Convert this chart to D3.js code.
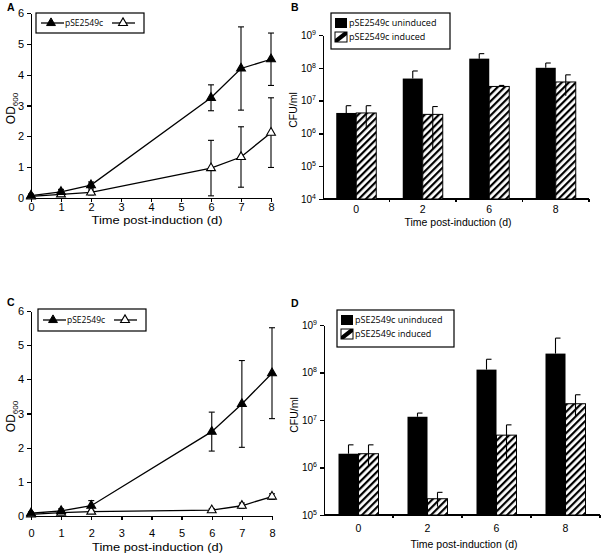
<!DOCTYPE html>
<html>
<head>
<meta charset="utf-8">
<script src="https://cdn.jsdelivr.net/npm/d3@7"></script>
<style>
  body { margin: 0; background: #fff; }
  svg { display: block; }
  .axis path, .axis line { stroke: #000; stroke-width: 1.3; shape-rendering: crispEdges; }
  .axis text { font-family: "Liberation Sans", Arial, sans-serif; fill: #000; }
  .title { font-family: "Liberation Sans", Arial, sans-serif; fill: #000; }
  .panel { font-family: "Liberation Sans", Arial, sans-serif; font-weight: bold; font-size: 10.5px; }
  .legend text { font-family: "Open Sans", sans-serif; font-size: 8.5px; fill: #000; }
  .legend.bars text { font-size: 9px; }
</style>
</head>
<body>
<div id="chart"></div>
<script>
// line charts (A, C): OD600 over days
let lineDays = [0, 1, 2, 6, 7, 8];
let aFilled = [0.08, 0.2, 0.42, 3.25, 4.2, 4.5];
let aFilledErr = [0.05, 0.08, 0.1, 0.42, 1.35, 0.85];
let aOpen = [0.05, 0.12, 0.18, 0.97, 1.33, 2.12];
let aOpenErr = [0.03, 0.05, 0.08, 0.9, 0.98, 1.13];
let cFilled = [0.08, 0.15, 0.3, 2.47, 3.28, 4.18];
let cFilledErr = [0.04, 0.06, 0.15, 0.57, 1.27, 1.33];
let cOpen = [0.05, 0.1, 0.13, 0.17, 0.3, 0.57];
let cOpenErr = [0.02, 0.03, 0.04, 0.05, 0.08, 0.08];
let odTicks = [0, 1, 2, 3, 4, 5, 6];
let dayTicks = [0, 1, 2, 3, 4, 5, 6, 7, 8];

// bar charts (B, D): CFU/ml
let barDays = ['0', '2', '6', '8'];
let bUninduced = [4.2e6, 4.7e7, 1.9e8, 1.0e8];
let bUninducedHi = [7e6, 8e7, 2.7e8, 1.4e8];
let bInduced = [4.2e6, 3.8e6, 2.7e7, 3.7e7];
let bInducedHi = [7e6, 6.6e6, 2.9e7, 6.1e7];
let bInducedLo = [1.4e6, 3.3e5, 2.6e7, 1.4e7];
let dUninduced = [1.95e6, 1.17e7, 1.15e8, 2.5e8];
let dUninducedHi = [3e6, 1.4e7, 1.9e8, 5.3e8];
let dInduced = [1.95e6, 2.2e5, 4.8e6, 2.2e7];
let dInducedHi = [3e6, 3e5, 7.9e6, 3.4e7];
let dInducedLo = [1.07e6, 1.5e5, 1.4e6, 1.2e7];
let bExponents = [4, 5, 6, 7, 8, 9];
let dExponents = [5, 6, 7, 8, 9];

let legendName = 'pSE2549c';
let barNames = ['pSE2549c uninduced', 'pSE2549c induced'];
let xTitle = 'Time post-induction (d)';

let svg = d3.select('#chart').append('svg')
  .attr('width', 603)
  .attr('height', 556);

let defs = svg.append('defs');
defs.append('pattern')
  .attr('id', 'hatch')
  .attr('patternUnits', 'userSpaceOnUse')
  .attr('width', 5)
  .attr('height', 5)
  .attr('patternTransform', 'rotate(45)')
  .call(p => {
    p.append('rect').attr('width', 5).attr('height', 5).attr('fill', '#fff');
    p.append('rect').attr('width', 2.2).attr('height', 5).attr('fill', '#000');
  });

function drawLinePanel(opt) {
  let g = svg.append('g');
  let x = d3.scaleLinear().domain([0, 8]).range([opt.x0, opt.x1]);
  let y = d3.scaleLinear().domain([0, 6]).range([opt.y0, opt.y1]);

  g.append('g')
   .attr('class', 'axis')
   .attr('transform', `translate(0, ${opt.y0})`)
   .call(d3.axisBottom(x).tickValues(dayTicks).tickFormat(d3.format('d'))
     .tickSize(4).tickSizeOuter(0).tickPadding(opt.xPad))
   .selectAll('text').style('font-size', '11px');

  g.append('g')
   .attr('class', 'axis')
   .attr('transform', `translate(${opt.x0}, 0)`)
   .call(d3.axisLeft(y).tickValues(odTicks).tickFormat(d3.format('d'))
     .tickSize(4).tickSizeOuter(0).tickPadding(3))
   .selectAll('text').style('font-size', '11px');

  g.append('text')
   .attr('class', 'title')
   .attr('x', (opt.x0 + opt.x1) / 2 + 6)
   .attr('y', opt.y0 + opt.titleDy)
   .attr('text-anchor', 'middle')
   .attr('textLength', 131)
   .attr('lengthAdjust', 'spacingAndGlyphs')
   .style('font-size', '11.5px')
   .text(xTitle);

  let yl = g.append('text')
   .attr('class', 'title')
   .attr('transform', `translate(${opt.x0 - 16}, ${(opt.y0 + opt.y1) / 2 + 3}) rotate(-90)`)
   .attr('text-anchor', 'middle')
   .style('font-size', '12px');
  yl.append('tspan').text('OD');
  yl.append('tspan').attr('dy', 3).style('font-size', '8px').text('600');

  g.append('text').attr('class', 'panel')
   .attr('x', opt.lx).attr('y', opt.ly).text(opt.label);

  let series = [
    {vals: opt.open, err: opt.openErr, fill: '#fff'},
    {vals: opt.filled, err: opt.filledErr, fill: '#000'}
  ];
  let line = d3.line().x((d, i) => x(lineDays[i])).y(d => y(d));
  let tri = d3.symbol(d3.symbolTriangle, 34);

  series.forEach(s => {
    g.append('path')
     .attr('d', line(s.vals))
     .attr('fill', 'none')
     .attr('stroke', '#000')
     .attr('stroke-width', 1.3);
  });

  series.forEach(s => {
    let eb = g.append('g').attr('stroke', '#000').attr('stroke-width', 1.1);
    s.vals.forEach((v, i) => {
      let cx = x(lineDays[i]);
      let lo = y(Math.max(0, v - s.err[i]));
      let hi = y(v + s.err[i]);
      eb.append('line').attr('x1', cx).attr('x2', cx).attr('y1', lo).attr('y2', hi);
      eb.append('line').attr('x1', cx - 3).attr('x2', cx + 3).attr('y1', lo).attr('y2', lo);
      eb.append('line').attr('x1', cx - 3).attr('x2', cx + 3).attr('y1', hi).attr('y2', hi);
    });
  });

  series.forEach(s => {
    g.selectAll(null)
     .data(s.vals)
     .enter().append('path')
     .attr('d', tri)
     .attr('transform', (d, i) => `translate(${x(lineDays[i])}, ${y(d)})`)
     .attr('fill', s.fill)
     .attr('stroke', '#000')
     .attr('stroke-width', 1.1);
  });

  // legend
  let lg = g.append('g').attr('class', 'legend');
  let b = opt.legend;
  lg.append('rect')
    .attr('x', b.x).attr('y', b.y).attr('width', b.w).attr('height', b.h)
    .attr('fill', '#fff').attr('stroke', '#000').attr('stroke-width', 1.2);
  let cy = b.y + b.h / 2;
  lg.append('line').attr('x1', b.x + 5).attr('x2', b.x + 28).attr('y1', cy).attr('y2', cy)
    .attr('stroke', '#000').attr('stroke-width', 1.3);
  lg.append('path').attr('d', tri).attr('transform', `translate(${b.x + 15}, ${cy})`)
    .attr('fill', '#000').attr('stroke', '#000');
  lg.append('text').attr('x', b.x + 29).attr('y', cy + 3).text(legendName);
  lg.append('line').attr('x1', b.x + 76).attr('x2', b.x + 99).attr('y1', cy).attr('y2', cy)
    .attr('stroke', '#000').attr('stroke-width', 1.3);
  lg.append('path').attr('d', tri).attr('transform', `translate(${b.x + 87}, ${cy})`)
    .attr('fill', '#fff').attr('stroke', '#000').attr('stroke-width', 1.1);
}

function drawBarPanel(opt) {
  let g = svg.append('g');
  let x = d3.scaleBand().domain(barDays).range([opt.x0, opt.x1]);
  let bw = x.bandwidth();
  let inner = d3.scaleBand().domain(['u', 'i']).range([bw / 2 - 20, bw / 2 + 20]);
  let y = d3.scaleLog().domain([Math.pow(10, opt.exps[0]), 1e9]).range([opt.y0, opt.y1]);

  let barData = barDays.map((d, i) => ({
    day: d,
    u: opt.unind[i], uHi: opt.unindHi[i],
    ind: opt.ind[i], iHi: opt.indHi[i], iLo: opt.indLo[i]
  }));

  // x axis
  let xa = g.append('g').attr('class', 'axis');
  xa.append('line').attr('x1', opt.x0).attr('x2', opt.x1).attr('y1', opt.y0).attr('y2', opt.y0);
  xa.selectAll('.tk').data(barDays).enter().append('line')
    .attr('x1', d => x(d) + bw).attr('x2', d => x(d) + bw)
    .attr('y1', opt.y0).attr('y2', opt.y0 + 3);
  xa.selectAll('text').data(barDays).enter().append('text')
    .attr('x', d => x(d) + bw / 2)
    .attr('y', opt.y0 + opt.tickDy)
    .attr('text-anchor', 'middle')
    .style('font-size', '10.5px')
    .text(d => d);

  g.append('text')
   .attr('class', 'title')
   .attr('x', (opt.x0 + opt.x1) / 2 + 2)
   .attr('y', opt.y0 + opt.titleDy)
   .attr('text-anchor', 'middle')
   .attr('textLength', 107)
   .attr('lengthAdjust', 'spacingAndGlyphs')
   .style('font-size', '10.5px')
   .text(xTitle);

  // y axis
  let ya = g.append('g')
    .attr('class', 'axis')
    .attr('transform', `translate(${opt.x0}, 0)`)
    .call(d3.axisLeft(y)
      .tickValues(opt.exps.map(e => Math.pow(10, e)))
      .tickSize(4).tickSizeOuter(0).tickPadding(3)
      .tickFormat(() => ''));
  ya.selectAll('.tick text').each(function(d) {
    let t = d3.select(this).style('font-size', '10px');
    t.append('tspan').text('10');
    t.append('tspan').attr('dy', -4).style('font-size', '7px').text(Math.round(Math.log10(d)));
  });

  g.append('text')
   .attr('class', 'title')
   .attr('transform', `translate(${opt.x0 - 26}, ${opt.ylabY}) rotate(-90)`)
   .attr('text-anchor', 'middle')
   .style('font-size', '10.5px')
   .text('CFU/ml');

  g.append('text').attr('class', 'panel')
   .attr('x', opt.lx).attr('y', opt.ly).text(opt.label);

  let grp = g.selectAll('.grp').data(barData).enter().append('g')
    .attr('transform', d => `translate(${x(d.day)}, 0)`);

  // error bars drawn first so bars hide the lower halves
  grp.append('line')
    .attr('x1', inner('u') + inner.bandwidth() / 2)
    .attr('x2', inner('u') + inner.bandwidth() / 2)
    .attr('y1', d => y(d.u)).attr('y2', d => y(d.uHi))
    .attr('stroke', '#000').attr('stroke-width', 1.1);
  grp.append('line')
    .attr('x1', inner('u') + inner.bandwidth() / 2)
    .attr('x2', inner('u') + inner.bandwidth() / 2 + 5)
    .attr('y1', d => y(d.uHi)).attr('y2', d => y(d.uHi))
    .attr('stroke', '#000').attr('stroke-width', 1.1);

  grp.append('rect')
    .attr('x', inner('u'))
    .attr('width', inner.bandwidth())
    .attr('y', d => y(d.u))
    .attr('height', d => opt.y0 - y(d.u))
    .attr('fill', '#000');

  grp.append('rect')
    .attr('x', inner('i'))
    .attr('width', inner.bandwidth())
    .attr('y', d => y(d.ind))
    .attr('height', d => opt.y0 - y(d.ind))
    .attr('fill', 'url(#hatch)')
    .attr('stroke', '#000')
    .attr('stroke-width', 1);

  grp.append('line')
    .attr('x1', inner('i') + inner.bandwidth() / 2)
    .attr('x2', inner('i') + inner.bandwidth() / 2)
    .attr('y1', d => y(d.iLo)).attr('y2', d => y(d.iHi))
    .attr('stroke', '#000').attr('stroke-width', 1.1);
  grp.append('line')
    .attr('x1', inner('i') + inner.bandwidth() / 2)
    .attr('x2', inner('i') + inner.bandwidth() / 2 + 5)
    .attr('y1', d => y(d.iHi)).attr('y2', d => y(d.iHi))
    .attr('stroke', '#000').attr('stroke-width', 1.1);

  // legend
  let b = opt.legend;
  let lg = g.append('g').attr('class', 'legend bars');
  lg.append('rect')
    .attr('x', b.x).attr('y', b.y).attr('width', b.w).attr('height', b.h)
    .attr('fill', '#fff').attr('stroke', '#000').attr('stroke-width', 1.2);
  let sw = 12, sh = 10;
  lg.append('rect').attr('x', b.x + 4).attr('y', b.y + 5).attr('width', sw).attr('height', sh)
    .attr('fill', '#000');
  let s2y = b.y + 5 + sh + 4;
  lg.append('rect').attr('x', b.x + 4).attr('y', s2y).attr('width', sw).attr('height', sh)
    .attr('fill', '#fff').attr('stroke', '#000').attr('stroke-width', 1);
  lg.append('path')
    .attr('d', `M${b.x + 4},${s2y + sh} L${b.x + 4},${s2y + sh - 3} L${b.x + 13},${s2y} L${b.x + 4 + sw},${s2y} L${b.x + 4 + sw},${s2y + 3} L${b.x + 7},${s2y + sh} Z`)
    .attr('fill', '#000');
  barNames.forEach((n, i) => {
    lg.append('text').attr('x', b.x + 18).attr('y', b.y + 13 + i * 14).text(n);
  });
}

drawLinePanel({
  x0: 31, x1: 271, y0: 198, y1: 13, label: 'A', lx: 7, ly: 11,
  xPad: 1, titleDy: 26,
  filled: aFilled, filledErr: aFilledErr, open: aOpen, openErr: aOpenErr,
  legend: {x: 36, y: 13, w: 108, h: 20}
});

drawLinePanel({
  x0: 31, x1: 272, y0: 516, y1: 311, label: 'C', lx: 7, ly: 306,
  xPad: 9, titleDy: 35,
  filled: cFilled, filledErr: cFilledErr, open: cOpen, openErr: cOpenErr,
  legend: {x: 38, y: 309, w: 108, h: 22}
});

drawBarPanel({
  x0: 323, x1: 589, y0: 199, y1: 35, exps: bExponents, label: 'B', lx: 291, ly: 11,
  ylabY: 110, tickDy: 14, titleDy: 27,
  unind: bUninduced, unindHi: bUninducedHi, ind: bInduced, indHi: bInducedHi, indLo: bInducedLo,
  legend: {x: 331, y: 13, w: 119, h: 36}
});

drawBarPanel({
  x0: 324, x1: 600, y0: 515, y1: 325, exps: dExponents, label: 'D', lx: 291, ly: 307,
  ylabY: 415, tickDy: 17, titleDy: 33,
  unind: dUninduced, unindHi: dUninducedHi, ind: dInduced, indHi: dInducedHi, indLo: dInducedLo,
  legend: {x: 337, y: 310, w: 117, h: 37}
});
</script>
</body>
</html>
